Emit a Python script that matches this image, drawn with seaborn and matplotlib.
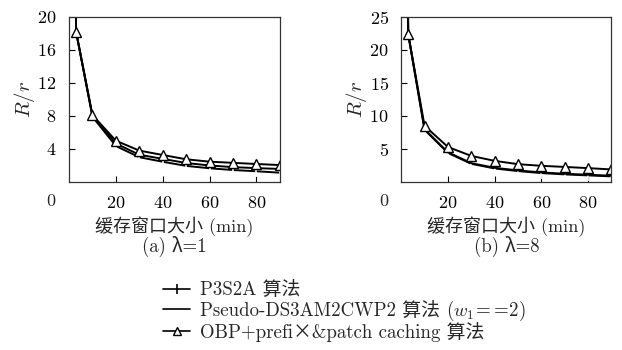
import numpy as np
import pandas as pd
import matplotlib
matplotlib.use("Agg")
import matplotlib.pyplot as plt
import seaborn as sns
from matplotlib.lines import Line2D

# window size (min); first point lies above the plot and is clipped
window = [2, 3, 10, 20, 30, 40, 50, 60, 70, 80, 90]

# panel (a) lambda = 1
p3s2a_a = [60, 18.2, 7.9, 4.35, 3.0, 2.45, 1.95, 1.66, 1.45, 1.3, 1.13]
pseudo_a = [60, 18.2, 8.0, 4.65, 3.3, 2.8, 2.3, 2.0, 1.8, 1.68, 1.58]
obp_a = [60, 18.2, 8.1, 5.0, 3.8, 3.27, 2.75, 2.46, 2.32, 2.18, 2.05]

# panel (b) lambda = 8
p3s2a_b = [70, 22.4, 7.9, 4.4, 2.75, 2.05, 1.65, 1.35, 1.15, 1.0, 0.85]
pseudo_b = [70, 22.4, 8.0, 4.5, 2.85, 2.15, 1.75, 1.45, 1.25, 1.1, 0.95]
obp_b = [70, 22.4, 8.5, 5.3, 3.95, 3.2, 2.7, 2.45, 2.28, 2.1, 1.9]

labels = ["P3S2A 算法",
          "Pseudo-DS3AM2CWP2 算法",
          "OBP+prefi×&patch caching 算法"]
label_tail = "$(w_1\\!=\\!=\\!2)$"
captions = ["(a) λ=1", "(b) λ=8"]
yticks_a = [4, 8, 12, 16, 20]
yticks_b = [5, 10, 15, 20, 25]
xticks = [20, 40, 60, 80]

sns.set_style("ticks")
plt.rcParams["font.family"] = ["cmr10", "Noto Sans CJK SC", "DejaVu Sans"]
plt.rcParams["mathtext.fontset"] = "cm"
plt.rcParams["axes.unicode_minus"] = False
plt.rcParams["axes.formatter.use_mathtext"] = True

fig = plt.figure(figsize=(6.22, 3.5), dpi=100)
ax_a = fig.add_axes([0.111, 0.48, 0.339, 0.472])
ax_b = fig.add_axes([0.645, 0.48, 0.338, 0.472])

styles = [dict(marker="|", markersize=8, markeredgewidth=1.2),
          dict(marker=None),
          dict(marker="^", markersize=7, markerfacecolor="white",
               markeredgecolor="black", markeredgewidth=1.0)]

panels = [(ax_a, [p3s2a_a, pseudo_a, obp_a], yticks_a, 20),
          (ax_b, [p3s2a_b, pseudo_b, obp_b], yticks_b, 25)]

for i, (ax, series, yt, ymax) in enumerate(panels):
    for vals, st in zip(series, styles):
        df = pd.DataFrame({"x": window, "y": vals})
        sns.lineplot(data=df, x="x", y="y", ax=ax, color="black",
                     linewidth=1.4, estimator=None, sort=False, **st)
    ax.set_xlim(0, 90)
    ax.set_ylim(0, ymax)
    ax.set_xticks(xticks)
    ax.set_yticks(yt)
    ax.tick_params(direction="in", labelsize=13, length=4, width=0.8,
                   colors="black", pad=9)
    for s in ax.spines.values():
        s.set_linewidth(0.9)
        s.set_color("#333333")
    ax.set_ylabel("$R/r$", fontsize=15, labelpad=0)
    ax.set_xlabel("缓存窗口大小 (min)", fontsize=13, labelpad=4)
    ax.text(-0.085, -0.07, "0", transform=ax.transAxes, fontsize=13,
            ha="center", va="top")
    ax.text(0.5, -0.325, captions[i], transform=ax.transAxes, fontsize=13.5,
            ha="center", va="top")

handles = [Line2D([], [], color="black", linewidth=1.2, marker="|",
                  markersize=7, markeredgewidth=1.2),
           Line2D([], [], color="black", linewidth=1.2),
           Line2D([], [], color="black", linewidth=1.2, marker="^",
                  markersize=6, markerfacecolor="white",
                  markeredgecolor="black", markeredgewidth=1.0)]
leg = fig.legend(handles, labels, loc="upper left",
                 bbox_to_anchor=(0.262, 0.197), frameon=False, fontsize=13.6,
                 handlelength=1.45, handletextpad=0.5, labelspacing=0.13,
                 borderpad=0, borderaxespad=0)

# math part of the second legend entry, placed right after its text
fig.canvas.draw()
t = leg.get_texts()[1]
bb = t.get_window_extent()
px, py = t.get_transform().transform(t.get_position())
fig.text((bb.x1 + 6) / fig.bbox.width, py / fig.bbox.height, label_tail,
         fontsize=13.6, ha="left", va="baseline")

fig.savefig("out.png", dpi=100)
